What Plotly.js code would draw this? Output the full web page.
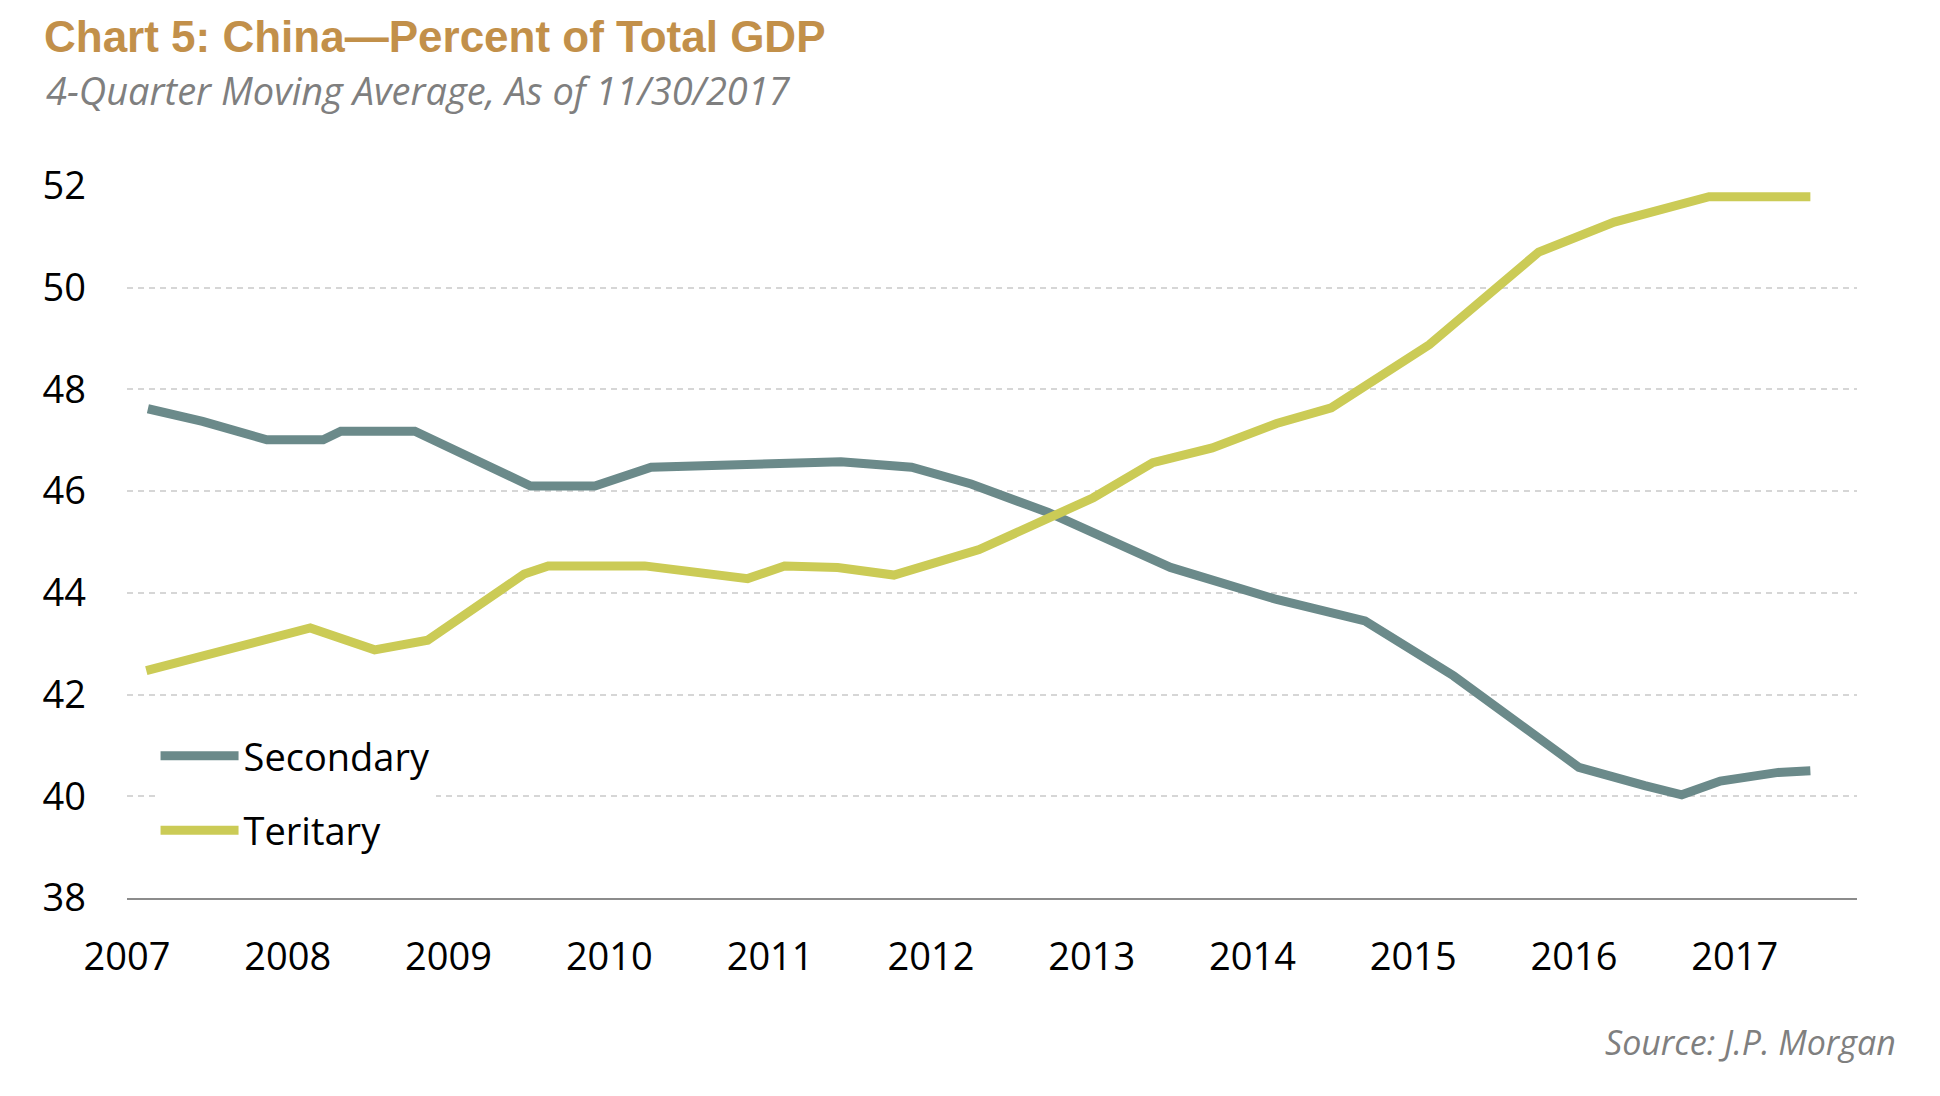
<!DOCTYPE html>
<html>
<head>
<meta charset="utf-8">
<script src="https://cdn.plot.ly/plotly-3.0.1.min.js"></script>
<style>
  html, body { margin: 0; padding: 0; background: #fff; }
  #myDivChart { width: 1940px; height: 1096px; }
</style>
</head>
<body>
<div id="myDivChart"></div>
<script>
// Values (x = fractional year)
var secondaryX = [2007.13, 2007.47, 2007.87, 2008.22, 2008.33, 2008.79, 2009.51, 2009.91, 2010.26,
                  2011.06, 2011.44, 2011.88, 2012.25, 2012.73, 2013.49, 2014.15, 2014.70, 2015.25,
                  2016.03, 2016.44, 2016.67, 2016.91, 2017.27, 2017.47];
var secondaryY = [47.62, 47.37, 47.01, 47.01, 47.18, 47.18, 46.10, 46.10, 46.47,
                  46.54, 46.58, 46.47, 46.14, 45.58, 44.50, 43.87, 43.45, 42.37,
                  40.57, 40.21, 40.03, 40.30, 40.47, 40.50];

var tertiaryX = [2007.12, 2007.85, 2008.14, 2008.54, 2008.87, 2009.47, 2009.62, 2010.22, 2010.59,
                 2010.86, 2011.09, 2011.42, 2011.77, 2012.30, 2013.01, 2013.38, 2013.75, 2014.15,
                 2014.49, 2015.10, 2015.78, 2016.25, 2016.84, 2017.47];
var tertiaryY = [42.47, 43.10, 43.31, 42.88, 43.07, 44.37, 44.53, 44.53, 44.38,
                 44.28, 44.53, 44.50, 44.35, 44.85, 45.87, 46.56, 46.85, 47.33,
                 47.64, 48.88, 50.70, 51.29, 51.79, 51.79];

var yearTicks = [2007, 2008, 2009, 2010, 2011, 2012, 2013, 2014, 2015, 2016, 2017];
var yTicks = [38, 40, 42, 44, 46, 48, 50, 52];

var labelFont = 'Open Sans, Noto Sans, sans-serif';

var trace1 = {
  x: secondaryX,
  y: secondaryY,
  name: 'Secondary',
  type: 'scatter',
  mode: 'lines',
  legendgroup: 'a',
  line: { color: '#6b8a8a', width: 9 },
};

var trace2 = {
  x: tertiaryX,
  y: tertiaryY,
  name: 'Teritary',
  type: 'scatter',
  mode: 'lines',
  legendgroup: 'b',
  line: { color: '#cbcb56', width: 9 },
};

var data = [trace1, trace2];

var layout = {
  width: 1940,
  height: 1096,
  paper_bgcolor: '#fff',
  plot_bgcolor: '#fff',
  margin: { l: 127, r: 83, t: 186, b: 198 },
  showlegend: true,
  legend: {
    x: 0.0165,
    y: 0.2435,
    xanchor: 'left',
    yanchor: 'top',
    bgcolor: '#fff',
    itemwidth: 78,
    tracegroupgap: 22,
    traceorder: 'grouped',
    font: { family: labelFont, size: 38, color: '#000' },
  },
  title: {
    text: 'Chart 5: China\u2014Percent of Total GDP',
    xref: 'container',
    yref: 'container',
    x: 44 / 1940,
    xanchor: 'left',
    y: 1 - 37 / 1096,
    yanchor: 'middle',
    font: { family: 'Liberation Sans, Arial, sans-serif', size: 44, color: '#c2904a', weight: 'bold' },
  },
  xaxis: {
    type: 'linear',
    range: [2007, 2017.76],
    tickvals: yearTicks,
    ticktext: yearTicks.map(String),
    showgrid: false,
    zeroline: false,
    showline: true,
    linecolor: '#8c8c8c',
    linewidth: 2,
    ticks: '',
    ticklabelstandoff: 24,
    tickfont: { family: labelFont, size: 38, color: '#000' },
    fixedrange: true,
  },
  yaxis: {
    range: [38, 52],
    tickvals: yTicks,
    showgrid: true,
    gridcolor: '#d6d6d6',
    gridwidth: 1.5,
    griddash: '6px,5px',
    zeroline: false,
    showline: false,
    ticks: '',
    ticklabelstandoff: 40,
    tickfont: { family: labelFont, size: 38, color: '#000' },
    fixedrange: true,
  },
  annotations: [{
    xref: 'paper',
    yref: 'paper',
    x: (44 - 127) / 1730,
    xanchor: 'left',
    y: (898 - 90) / 712,
    yanchor: 'middle',
    text: '<i>4-Quarter Moving Average, As of 11/30/2017</i>',
    showarrow: false,
    font: { family: labelFont, size: 38, color: '#7f7f7f' },
  }, {
    xref: 'paper',
    yref: 'paper',
    x: (1898 - 127) / 1730,
    xanchor: 'right',
    y: (898 - 1042) / 712,
    yanchor: 'middle',
    text: '<i>Source: J.P. Morgan</i>',
    showarrow: false,
    font: { family: labelFont, size: 34, color: '#7f7f7f' },
  }],
};

var config = {
  displayModeBar: false,
  responsive: false,
};

Plotly.newPlot('myDivChart', data, layout, config);
</script>
</body>
</html>
